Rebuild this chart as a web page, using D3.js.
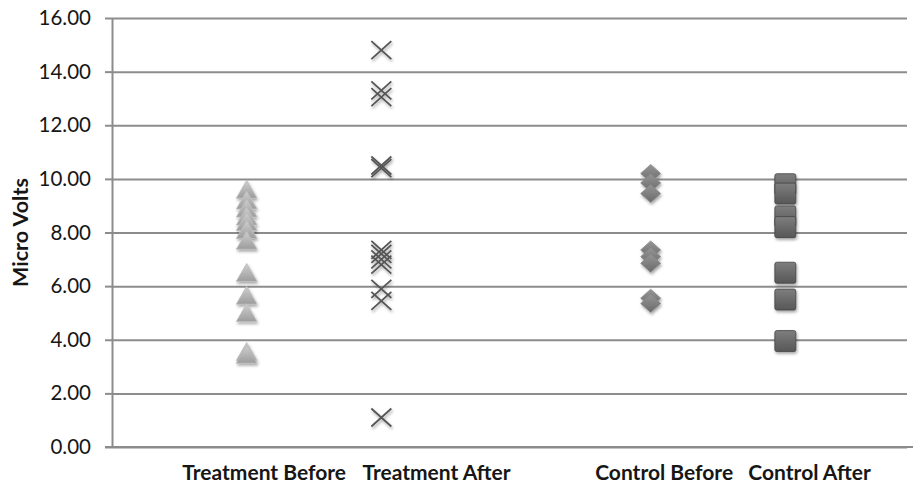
<!DOCTYPE html>
<html>
<head>
    <meta charset="utf-8">
    <title>Micro Volts scatter</title>
    <script src="https://d3js.org/d3.v7.min.js"></script>
    <style>
        body { margin: 0; background: #fff; }
        text { font-family: Lato, "Open Sans", sans-serif; fill: #161616; }
    </style>
</head>
<body>
    <svg id="chart"></svg>
    <script>
        // Data
        const categories = ['Treatment Before', 'Treatment After', 'Control Before', 'Control After'];
        const categoryPos = [1, 2, 4, 5];           // x slots (slot 3 is empty)
        const labelPos = [1.13, 2.41, 4.1, 5.18];  // where the category texts sit
        const treatmentBefore = [9.5, 9.1, 8.8, 8.5, 8.3, 8.0, 7.6, 6.4, 5.55, 4.9, 3.45, 3.35];
        const treatmentAfter = [14.8, 13.3, 13.05, 10.5, 10.4, 7.35, 7.2, 7.0, 6.8, 5.9, 5.45, 1.1];
        const controlBefore = [10.2, 9.85, 9.45, 7.35, 7.1, 6.85, 5.55, 5.35];
        const controlAfter = [9.8, 9.45, 8.6, 8.2, 6.5, 5.5, 3.95];
        const yTicks = [0, 2, 4, 6, 8, 10, 12, 14, 16];

        const width = 913, height = 487;
        const plotLeft = 112, plotRight = 907, plotTop = 18, plotBottom = 447;

        const svg = d3.select('#chart')
            .attr('width', width)
            .attr('height', height);

        const defs = svg.append('defs');
        const shadow = defs.append('filter').attr('id', 'shadow')
            .attr('x', '-50%').attr('y', '-50%').attr('width', '200%').attr('height', '200%');
        shadow.append('feDropShadow')
            .attr('dx', 1).attr('dy', 2).attr('stdDeviation', 1.6)
            .attr('flood-color', '#000').attr('flood-opacity', 0.35);

        function grad(id, c1, c2) {
            const g = defs.append('linearGradient').attr('id', id)
                .attr('x1', 0).attr('y1', 0).attr('x2', 0).attr('y2', 1);
            g.append('stop').attr('offset', '0%').attr('stop-color', c1);
            g.append('stop').attr('offset', '100%').attr('stop-color', c2);
        }
        grad('gTri', '#cfcfcf', '#9c9c9c');
        grad('gDia', '#959595', '#6a6a6a');
        grad('gSq', '#7e7e7e', '#575757');

        const x = d3.scaleLinear().domain([0, 6]).range([plotLeft, 920]);
        const y = d3.scaleLinear().domain([0, 16]).range([plotBottom, plotTop]);

        // gridlines
        svg.append('g')
            .attr('transform', `translate(${plotLeft},0)`)
            .call(d3.axisLeft(y).tickValues(yTicks).tickSize(-(plotRight - plotLeft)).tickFormat(''))
            .call(g => g.select('.domain').remove())
            .call(g => g.selectAll('line').attr('stroke', '#8c8c8c').attr('stroke-width', 2));

        // left axis with labels
        svg.append('g')
            .attr('transform', `translate(${plotLeft},0)`)
            .call(d3.axisLeft(y).tickValues(yTicks).tickSize(7).tickSizeOuter(0).tickPadding(14)
                .tickFormat(d3.format('.2f')))
            .call(g => g.select('.domain').attr('stroke', '#8c8c8c').attr('stroke-width', 2))
            .call(g => g.selectAll('line').attr('stroke', '#8c8c8c').attr('stroke-width', 2))
            .call(g => g.selectAll('text').attr('font-size', 20.5).attr('fill', '#111')
                .attr('font-family', 'Lato, sans-serif'));

        // bottom axis line
        svg.append('line')
            .attr('x1', plotLeft - 7).attr('x2', width)
            .attr('y1', y(0)).attr('y2', y(0))
            .attr('stroke', '#8c8c8c').attr('stroke-width', 2);

        // y title
        svg.append('text')
            .attr('transform', `translate(28,${(plotTop + plotBottom) / 2}) rotate(-90)`)
            .attr('text-anchor', 'middle')
            .attr('font-size', 21.5)
            .attr('font-weight', 'bold')
            .text('Micro Volts');

        // category labels
        svg.append('g').selectAll('text')
            .data(categories)
            .join('text')
            .attr('x', (d, i) => x(labelPos[i]))
            .attr('y', 480)
            .attr('text-anchor', 'middle')
            .attr('font-size', 21)
            .attr('font-weight', 'bold')
            .text(d => d);

        const marks = svg.append('g').attr('filter', 'url(#shadow)');

        // Treatment Before: triangles
        marks.selectAll('.tri')
            .data(treatmentBefore)
            .join('path')
            .attr('class', 'tri')
            .attr('transform', d => `translate(${x(categoryPos[0])},${y(d)})`)
            .attr('d', d3.symbol(d3.symbolTriangle, 185))
            .attr('fill', 'url(#gTri)')
            .attr('stroke', '#bdbdbd')
            .attr('stroke-width', 0.8);

        // Treatment After: crosses
        marks.selectAll('.xm')
            .data(treatmentAfter)
            .join('path')
            .attr('class', 'xm')
            .attr('transform', d => `translate(${x(categoryPos[1])},${y(d)})`)
            .attr('d', 'M-10,-9L10,9M-10,9L10,-9')
            .attr('fill', 'none')
            .attr('stroke', '#555')
            .attr('stroke-width', 1.8);

        // Control Before: diamonds
        marks.selectAll('.dia')
            .data(controlBefore)
            .join('path')
            .attr('class', 'dia')
            .attr('transform', d => `translate(${x(categoryPos[2])},${y(d)})`)
            .attr('d', 'M0,-9L10,0L0,9L-10,0Z')
            .attr('fill', 'url(#gDia)')
            .attr('stroke', '#8a8a8a')
            .attr('stroke-width', 0.8);

        // Control After: squares
        marks.selectAll('.sq')
            .data(controlAfter)
            .join('rect')
            .attr('class', 'sq')
            .attr('x', x(categoryPos[3]) - 10.5)
            .attr('y', d => y(d) - 10.5)
            .attr('width', 21)
            .attr('height', 21)
            .attr('rx', 2)
            .attr('fill', 'url(#gSq)')
            .attr('stroke', '#444')
            .attr('stroke-width', 0.8);
    </script>
</body>
</html>
